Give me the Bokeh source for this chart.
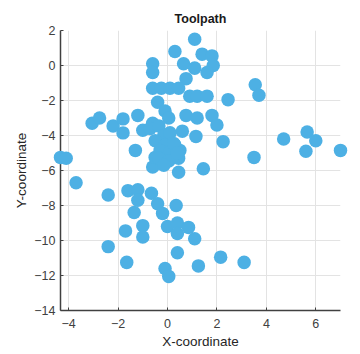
from bokeh.plotting import figure
from bokeh.models import Range1d, FixedTicker
from bokeh.embed import file_html
from bokeh.resources import INLINE

x_vals = [1.1, 0.3, 1.4, 1.8, 1.85, 1.6, 0.65, 1.1, 0.75, -0.6, -0.6, -0.6, -0.25, 0.1, 0.45,
          -0.4, -0.1, 0.05, 0.9, 1.2, 1.6, 2.45, 0.75, 1.2, 1.8, 2.0, 0.6, 1.15, 2.25, 3.55,
          3.7, 4.7, 5.65, 6.0, 5.6, 7.0, 3.5, 1.45, 0.45,
          -3.05, -2.75, -2.2, -1.8, -1.8, -1.2, -1.0, -0.6, -1.3, -4.33, -4.1, -3.7, -0.6, -0.5,
          -0.7, -0.35, -0.15, 0.1, -0.5, -0.1, 0.3, -0.3, 0.1, 0.5, -0.35, 0.05, 0.45, -0.15, 0.25, 0.4,
          -2.4, -1.6, -1.2, -1.2, -1.35, -0.65, -0.4, -0.2, 0.35, -1.7, -1.0, -1.0, -2.4, -1.65,
          0.0, 0.4, 0.85, 0.4, 1.1, 0.4, 2.15, 3.1, 1.25, -0.1, 0.05]
y_vals = [1.5, 0.8, 0.65, 0.55, 0.0, -0.4, 0.1, -0.15, -0.75, 0.1, -0.4, -1.3, -1.3, -1.3, -1.3,
          -2.1, -2.6, -3.0, -1.75, -1.75, -1.75, -1.95, -2.85, -3.0, -2.85, -3.4, -3.75, -4.05, -4.35, -1.1,
          -1.7, -4.2, -3.8, -4.3, -4.9, -4.85, -5.25, -5.9, -6.1,
          -3.3, -3.0, -3.45, -3.05, -3.85, -2.85, -3.7, -3.3, -4.85, -5.25, -5.3, -6.7, -5.8, -5.25,
          -3.6, -3.45, -4.0, -3.85, -4.3, -4.55, -4.55, -4.85, -4.95, -4.85, -5.3, -5.45, -5.3, -5.7, -4.45, -5.0,
          -7.4, -7.15, -7.1, -7.7, -8.4, -7.3, -7.9, -8.45, -8.0, -9.45, -9.15, -9.8, -10.35, -11.25,
          -9.2, -9.0, -9.25, -9.6, -9.9, -10.7, -10.95, -11.25, -11.45, -11.6, -12.05]
x_ticks = [-4, -2, 0, 2, 4, 6]
y_ticks = [-14, -12, -10, -8, -6, -4, -2, 0, 2]

FONT = "Liberation Sans"

p = figure(width=360, height=354, output_backend="svg", toolbar_location=None,
           x_range=Range1d(-4.33, 7.0), y_range=Range1d(-14, 2),
           title="Toolpath", min_border_left=60, min_border_right=20,
           min_border_top=30, min_border_bottom=44)

r = p.scatter(x_vals, y_vals, size=13.5, fill_color="#4DB0E4", line_color=None)
r.level = "overlay"

p.title.align = "center"
p.title.offset = 14
p.title.text_font = FONT
p.title.text_font_size = "12.5px"
p.title.text_font_style = "bold"
p.title.text_color = "#1a1a1a"
p.outline_line_color = None
p.background_fill_color = "white"
p.border_fill_color = "white"

p.xaxis.ticker = FixedTicker(ticks=x_ticks)
p.yaxis.ticker = FixedTicker(ticks=y_ticks)
p.xaxis.axis_label = "X-coordinate"
p.yaxis.axis_label = "Y-coordinate"
for ax in (p.xaxis, p.yaxis):
    ax.axis_label_text_font = FONT
    ax.axis_label_text_font_size = "13.5px"
    ax.axis_label_text_font_style = "normal"
    ax.axis_label_text_color = "#262626"
    ax.major_label_text_font = FONT
    ax.major_label_text_font_size = "12.5px"
    ax.major_label_text_color = "#404040"
    ax.axis_line_color = "#404040"
    ax.axis_line_width = 1.5
    ax.major_tick_line_color = "#404040"
    ax.major_tick_in = 3
    ax.major_tick_out = 0
    ax.minor_tick_line_color = None
p.xaxis.major_label_standoff = 8
p.xaxis.axis_label_standoff = 3
p.yaxis.major_label_standoff = 5
p.yaxis.axis_label_standoff = 2

p.xgrid.ticker = FixedTicker(ticks=x_ticks)
p.ygrid.ticker = FixedTicker(ticks=y_ticks)
p.grid.grid_line_color = "#e3e3e3"
p.grid.grid_line_width = 1

open("out.html", "w").write(file_html(p, INLINE))
